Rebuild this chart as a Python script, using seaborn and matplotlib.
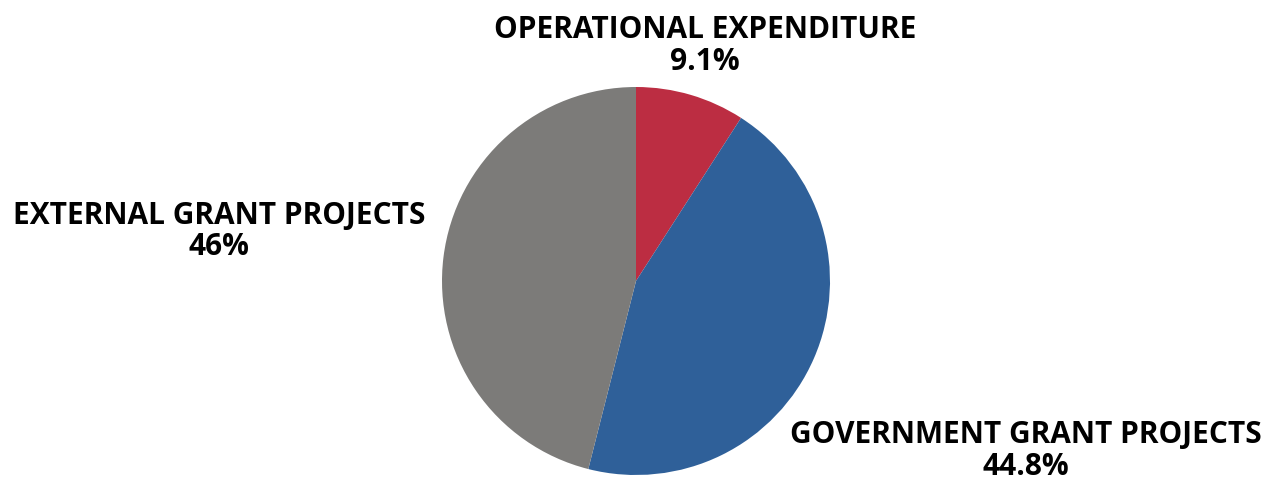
import matplotlib
matplotlib.use("Agg")
import matplotlib.pyplot as plt
import seaborn as sns

# data
categories = ["OPERATIONAL EXPENDITURE", "GOVERNMENT GRANT PROJECTS", "EXTERNAL GRANT PROJECTS"]
shares = [9.1, 44.8, 46.0]
share_labels = ["9.1%", "44.8%", "46%"]
colors = ["#BC2D42", "#2F6099", "#7C7B79"]

sns.set_theme(style="white")
plt.rcParams['font.family'] = ['Open Sans', 'DejaVu Sans']

fig = plt.figure(figsize=(12.81, 4.82), dpi=100)
cx, cy, r = 636, 281, 194
ax = fig.add_axes([(cx - r) / 1281, (482 - cy - r) / 482, 2 * r / 1281, 2 * r / 482])

ax.pie(shares, colors=colors, startangle=90, counterclock=False,
       radius=1, wedgeprops=dict(linewidth=0))
ax.set_xlim(-1, 1)
ax.set_ylim(-1, 1)

# label positions (relative to pie centre, in radii)
label_pos = [(0.356, 1.21), (2.01, -0.875), (-2.15, 0.255)]
for cat, lab, (x, y) in zip(categories, share_labels, label_pos):
    ax.text(x, y, f"{cat}\n{lab}", ha="center", va="center", fontsize=21.5,
            fontweight="bold", color="black", linespacing=1.08, clip_on=False)

ax.axis("off")
fig.savefig("out.png", dpi=100, facecolor="white")
